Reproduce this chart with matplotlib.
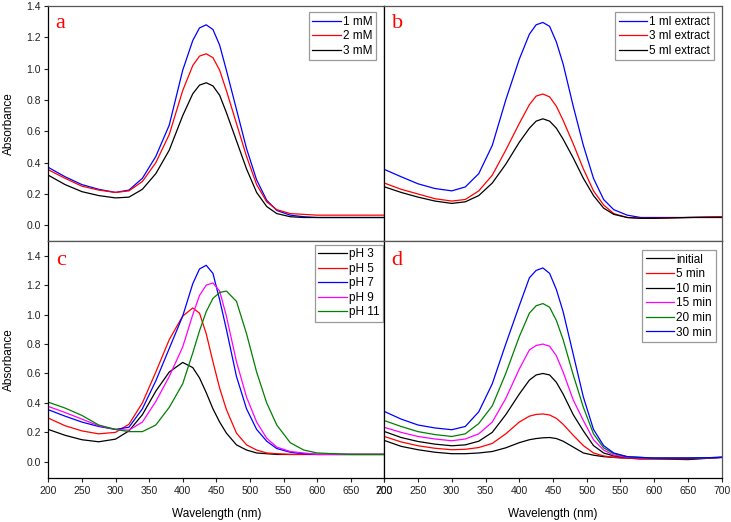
import matplotlib
matplotlib.use("Agg")
import matplotlib.pyplot as plt

plt.rcParams['font.family'] = ['Liberation Sans', 'DejaVu Sans']

wavelength = [200, 225, 250, 275, 300, 320, 340, 360, 380, 400, 415, 425, 435,
              445, 455, 465, 480, 495, 510, 525, 540, 560, 580, 600, 650, 700]

# Panel a: precursor concentration
a_labels = ["1 mM", "2 mM", "3 mM"]
a_1mM = [.37, .31, .26, .23, .21, .225, .30, .44, .64, .99, 1.18, 1.26, 1.28,
         1.25, 1.15, .99, .74, .49, .29, .16, .095, .065, .055, .05, .05, .05]
a_2mM = [.355, .30, .25, .225, .21, .22, .28, .40, .58, .86, 1.02, 1.08, 1.095,
         1.07, .99, .86, .65, .44, .26, .15, .10, .075, .07, .065, .065, .065]
a_3mM = [.32, .26, .215, .19, .175, .18, .23, .33, .48, .70, .84, .895, .91,
         .89, .83, .72, .54, .36, .21, .12, .075, .055, .05, .05, .05, .05]

# Panel b: extract volume
b_labels = ["1 ml extract", "3 ml extract", "5 ml extract"]
b_1ml = [.357, .31, .265, .235, .22, .245, .33, .51, .80, 1.06, 1.22, 1.28, 1.295,
         1.27, 1.17, 1.03, .76, .51, .30, .165, .10, .065, .05, .05, .05, .055]
b_3ml = [.27, .23, .20, .17, .155, .165, .22, .32, .48, .65, .77, .825, .838,
         .82, .76, .67, .52, .36, .22, .13, .075, .05, .045, .045, .05, .055]
b_5ml = [.246, .21, .18, .155, .14, .15, .19, .27, .39, .53, .62, .665, .68,
         .665, .62, .55, .43, .30, .19, .11, .07, .05, .045, .045, .05, .05]

# Panel c: pH
c_labels = ["pH 3", "pH 5", "pH 7", "pH 9", "pH 11"]
c_pH3 = [.22, .18, .15, .136, .154, .21, .32, .48, .61, .675, .64, .57, .47,
         .36, .27, .195, .115, .08, .06, .055, .05, .05, .05, .05, .05, .05]
c_pH5 = [.297, .245, .21, .19, .20, .255, .40, .61, .83, .99, 1.045, 1.01, .87,
         .68, .50, .355, .195, .115, .08, .06, .055, .05, .05, .05, .05, .05]
c_pH7 = [.354, .31, .27, .24, .22, .235, .36, .55, .77, .99, 1.21, 1.31, 1.335,
         1.28, 1.10, .90, .58, .36, .22, .14, .09, .065, .055, .05, .05, .05]
c_pH9 = [.376, .335, .29, .245, .22, .215, .27, .41, .58, .78, 1.0, 1.13, 1.20,
         1.215, 1.16, .99, .68, .44, .27, .16, .10, .07, .06, .05, .05, .05]
c_pH11 = [.405, .365, .315, .25, .22, .205, .205, .25, .37, .53, .74, .89, 1.02,
          1.11, 1.15, 1.16, 1.09, .87, .61, .40, .25, .13, .08, .06, .05, .05]

# Panel d: reaction time
d_labels = ["initial", "5 min", "10 min", "15 min", "20 min", "30 min"]
d_init = [.145, .105, .082, .065, .055, .055, .06, .07, .095, .13, .15, .158, .163,
          .165, .158, .14, .10, .06, .045, .035, .03, .025, .02, .02, .015, .03]
d_5 = [.172, .135, .109, .092, .082, .085, .097, .125, .19, .27, .31, .322, .325,
       .318, .295, .255, .18, .11, .06, .04, .03, .025, .02, .02, .02, .03]
d_10 = [.206, .165, .138, .12, .109, .115, .14, .20, .32, .46, .555, .59, .60,
        .59, .54, .46, .32, .21, .11, .06, .04, .03, .025, .025, .025, .03]
d_15 = [.234, .20, .172, .155, .143, .155, .19, .27, .43, .63, .76, .79, .80,
        .785, .72, .61, .42, .28, .15, .08, .045, .03, .025, .025, .025, .03]
d_20 = [.28, .24, .205, .185, .172, .19, .26, .38, .60, .85, 1.01, 1.06, 1.075,
        1.05, .96, .83, .59, .37, .19, .095, .055, .035, .03, .025, .025, .03]
d_30 = [.342, .29, .25, .23, .218, .24, .34, .53, .80, 1.06, 1.25, 1.30, 1.317,
        1.28, 1.17, 1.02, .73, .44, .22, .11, .06, .035, .03, .025, .025, .03]

x_ticks = [200, 250, 300, 350, 400, 450, 500, 550, 600, 650, 700]
y_ticks = [0.0, 0.2, 0.4, 0.6, 0.8, 1.0, 1.2, 1.4]

BLUE, RED, BLACK, MAG, GREEN = "#0000ff", "#ff0000", "#000000", "#ff00ff", "#008000"

W, H = 731, 522
fig = plt.figure(figsize=(W / 100, H / 100), dpi=100)

def px_axes(x0, x1, ytop, ybot):
    return fig.add_axes([x0 / W, (H - ybot) / H, (x1 - x0) / W, (ybot - ytop) / H])

axA = px_axes(48.3, 384.3, 6, 241)
axB = px_axes(384.3, 721.7, 6, 241)
axC = px_axes(48.3, 384.3, 241, 478)
axD = px_axes(384.3, 721.7, 241, 478)

panels = [
    (axA, "a", [(a_1mM, BLUE), (a_2mM, RED), (a_3mM, BLACK)], a_labels, (0.976, 0.974)),
    (axB, "b", [(b_1ml, BLUE), (b_3ml, RED), (b_5ml, BLACK)], b_labels, (0.976, 0.974)),
    (axC, "c", [(c_pH3, BLACK), (c_pH5, RED), (c_pH7, BLUE), (c_pH9, MAG), (c_pH11, GREEN)],
     c_labels, (0.997, 0.985)),
    (axD, "d", [(d_init, BLACK), (d_5, RED), (d_10, BLACK), (d_15, MAG), (d_20, GREEN), (d_30, BLUE)],
     d_labels, (0.982, 0.962)),
]

for ax, letter, series, labels, lpos in panels:
    for (vals, col), lab in zip(series, labels):
        ax.plot(wavelength, vals, color=col, lw=0.9, label=lab)
    ax.set_xlim(200, 700)
    ax.set_xticks(x_ticks)
    ax.set_yticks(y_ticks)
    ax.tick_params(direction="out", length=3, width=0.8, labelsize=7.5, pad=2.5,
                   colors="#222222")
    for s in ["top", "right"]:
        ax.spines[s].set_color("#555555")
    for s in ["left", "bottom"]:
        ax.spines[s].set_color("#000000")
    for s in ax.spines.values():
        s.set_linewidth(0.9)
    ax.text(0.022, 0.905 if ax in (axA, axB) else 0.899, letter, transform=ax.transAxes,
            color="#ff0000", fontsize=16, family=["Liberation Serif", "DejaVu Serif"],
            ha="left", va="baseline")
    leg = ax.legend(loc="upper right", bbox_to_anchor=lpos, borderaxespad=0,
                    fontsize=8.5, frameon=True, fancybox=False, handlelength=2.4,
                    handletextpad=0.2, labelspacing=0.22, borderpad=0.3)
    leg.get_frame().set_edgecolor("#808080")
    leg.get_frame().set_linewidth(0.9)

for ax in (axA, axB):
    ax.set_ylim(-0.1, 1.4)
    ax.tick_params(axis="x", bottom=False, labelbottom=False)
    ax.spines["bottom"].set_color("#555555")
for ax in (axC, axD):
    ax.set_ylim(-0.11, 1.5)
    ax.set_xlabel("Wavelength (nm)", fontsize=8.5, labelpad=9)
for ax in (axB, axD):
    ax.tick_params(axis="y", left=False, labelleft=False)
for ax in (axA, axC):
    ax.set_ylabel("Absorbance", fontsize=8.5, labelpad=8)

fig.savefig("out.png", dpi=100)
